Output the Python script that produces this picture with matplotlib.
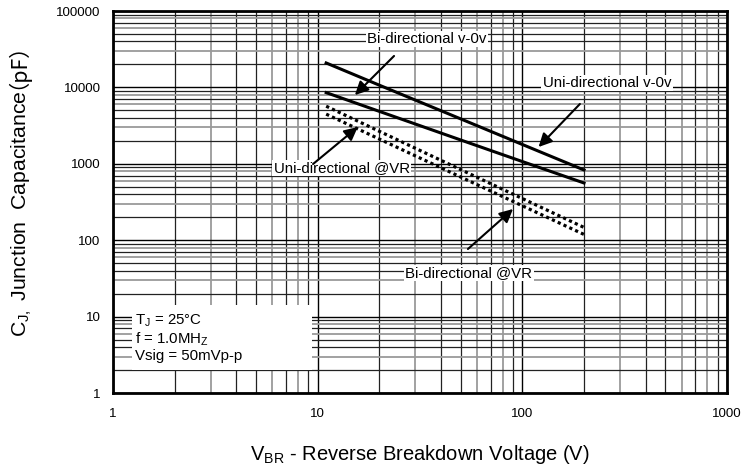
import math
import matplotlib.pyplot as plt
from matplotlib.patches import Rectangle
from matplotlib.ticker import LogLocator, NullFormatter, FixedLocator, FixedFormatter

plt.rcParams['font.family'] = ['Liberation Sans', 'Noto Sans CJK SC']
plt.rcParams['mathtext.fontset'] = 'custom'
plt.rcParams['mathtext.rm'] = 'Liberation Sans'

# 데이터
vbr = [11, 20, 50, 100, 200]
uni_0v = [20900, 10700, 3870, 1790, 830]
bi_0v = [8550, 4860, 2050, 1070, 561]
uni_vr = [5680, 2665, 839, 351, 147]
bi_vr = [4470, 2110, 671, 282, 119]

x_ticks = [1, 10, 100, 1000]
x_labels = ['1', '10', '100', '1000']
y_ticks = [1, 10, 100, 1000, 10000, 100000]
y_labels = ['1', '10', '100', '1000', '10000', '100000']

fig = plt.figure(figsize=(7.55, 4.71), dpi=100)
ax = fig.add_axes([0.1497, 0.1656, 0.8133, 0.811])
ax.set_xscale('log')
ax.set_yscale('log')
ax.set_xlim(1, 1000)
ax.set_ylim(1, 100000)

ax.xaxis.set_major_locator(FixedLocator(x_ticks))
ax.xaxis.set_major_formatter(FixedFormatter(x_labels))
ax.yaxis.set_major_locator(FixedLocator(y_ticks))
ax.yaxis.set_major_formatter(FixedFormatter(y_labels))
ax.xaxis.set_minor_locator(LogLocator(base=10, subs=range(2, 10), numticks=20))
ax.yaxis.set_minor_locator(LogLocator(base=10, subs=range(2, 10), numticks=20))
ax.xaxis.set_minor_formatter(NullFormatter())
ax.yaxis.set_minor_formatter(NullFormatter())
ax.tick_params(which='both', length=0, labelsize=9.6)
ax.tick_params(axis='x', pad=11)
ax.tick_params(axis='y', pad=9)

# 격자
ax.grid(True, which='major', color='black', lw=1.0)
ax.grid(True, which='minor', color='#222222', lw=0.9)
for axis in (ax.xaxis, ax.yaxis):
    locs = axis.get_minorticklocs()
    ticks = axis.get_minor_ticks(len(locs))
    for t, v in zip(ticks, locs):
        m = round(v / 10 ** math.floor(math.log10(v)))
        if m in (3, 6, 8):
            t.gridline.set_color('#9a9a9a')
            t.gridline.set_linewidth(1.3)
ax.set_axisbelow(True)

for s in ax.spines.values():
    s.set_linewidth(2)

# 곡선
ax.plot(vbr, uni_0v, color='black', lw=2.2, zorder=3)
ax.plot(vbr, bi_0v, color='black', lw=2.2, zorder=3)
ax.plot(vbr, uni_vr, color='black', lw=2.3, ls=(0, (1, 1)), zorder=3)
ax.plot(vbr, bi_vr, color='black', lw=2.3, ls=(0, (1, 1)), zorder=3)

box = dict(facecolor='white', edgecolor='none', pad=1)
arrow = dict(arrowstyle='-|>', color='black', lw=1.5, mutation_scale=20, shrinkA=0, shrinkB=0)
fs = 10.8

ax.text(34.2, 43000, 'Bi-directional v-0v', fontsize=fs, ha='center', va='center', bbox=box, zorder=4)
ax.annotate('', xy=(15.2, 7940), xytext=(23.6, 25800), arrowprops=arrow, zorder=5)

ax.text(259, 11400, 'Uni-directional v-0v', fontsize=fs, ha='center', va='center', bbox=box, zorder=4)
ax.annotate('', xy=(120, 1660), xytext=(191, 6070), arrowprops=arrow, zorder=5)

ax.text(13.1, 881, 'Uni-directional @VR', fontsize=fs, ha='center', va='center', bbox=box, zorder=4)
ax.annotate('', xy=(15.7, 3030), xytext=(9.49, 994), arrowprops=arrow, zorder=5)

ax.text(54.8, 37.2, 'Bi-directional @VR', fontsize=fs, ha='center', va='center', bbox=box, zorder=4)
ax.annotate('', xy=(90, 256), xytext=(54.2, 76.7), arrowprops=arrow, zorder=5)

# 조건 박스
ax.add_patch(Rectangle((0.031, 0.060), 0.293, 0.170, transform=ax.transAxes,
                       facecolor='white', edgecolor='none', zorder=2.5))
ax.text(0.036, 0.211, 'T$_\\mathregular{J}$ = 25°C\nf = 1.0MH$_\\mathregular{Z}$\nVsig = 50mVp-p',
        transform=ax.transAxes, fontsize=fs, ha='left', va='top', linespacing=1.08, zorder=4)

# 축 제목
fig.text(420 / 755, 1 - 455 / 471, 'V$_\\mathregular{BR}$ - Reverse Breakdown Voltage (V)',
         fontsize=14.5, ha='center', va='center')
yl = fig.text(26 / 755, 1 - 337 / 471, 'C$_\\mathregular{J,}$ Junction  Capacitance ',
              fontsize=15.3, rotation=90, rotation_mode='anchor', ha='left', va='baseline')
fig.canvas.draw()
bb = yl.get_window_extent()
fig.text(13 / 755, bb.y1 / fig.bbox.height, '（pF）', fontsize=15.3, rotation=90,
         rotation_mode='anchor', ha='left', va='baseline', family=['Noto Sans CJK SC'])

plt.savefig('out.png', dpi=100)
